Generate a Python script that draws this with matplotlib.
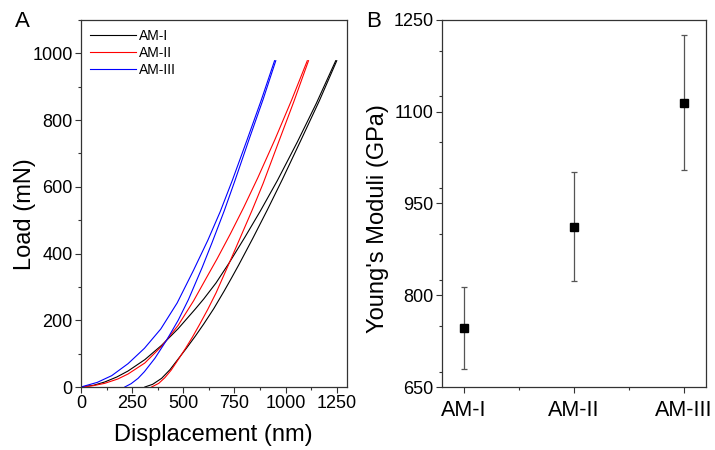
import matplotlib
matplotlib.use("Agg")
import matplotlib.pyplot as plt
from matplotlib.ticker import MultipleLocator

plt.rcParams['font.family'] = ['Liberation Sans', 'DejaVu Sans']

# ---- Panel A data: load-displacement curves (nm, mN) ----
am1_load_d = [0, 60, 116, 175, 230, 312, 394, 475, 559, 600, 660, 722, 800, 877, 959, 1057, 1150, 1245]
am1_load_L = [0, 5, 15, 30, 48, 82, 125, 175, 234, 264, 312, 370, 448, 528, 618, 734, 850, 978]
am1_unload_d = [312, 350, 394, 435, 475, 515, 557, 600, 649, 700, 735, 771, 840, 910, 984, 1075, 1165, 1250]
am1_unload_L = [0, 8, 26, 52, 84, 116, 151, 189, 235, 288, 326, 366, 446, 530, 622, 740, 858, 978]

am2_load_d = [0, 60, 116, 180, 230, 312, 394, 475, 550, 620, 665, 730, 795, 864, 948, 1030, 1106]
am2_load_L = [0, 4, 11, 24, 39, 72, 122, 185, 258, 335, 384, 459, 538, 627, 742, 861, 978]
am2_unload_d = [345, 380, 410, 440, 475, 510, 545, 580, 619, 660, 722, 780, 835, 890, 962, 1040, 1112]
am2_unload_L = [0, 11, 28, 50, 82, 115, 150, 188, 232, 282, 368, 450, 528, 610, 728, 855, 978]

am3_load_d = [0, 80, 150, 230, 310, 390, 470, 550, 620, 680, 740, 810, 880, 946]
am3_load_L = [0, 14, 34, 70, 116, 174, 252, 350, 440, 525, 620, 738, 858, 978]
am3_unload_d = [214, 245, 279, 310, 361, 418, 475, 525, 592, 640, 700, 752, 823, 890, 952]
am3_unload_L = [0, 10, 26, 46, 86, 140, 200, 262, 358, 432, 528, 618, 745, 862, 978]

series_names = ["AM-I", "AM-II", "AM-III"]
series_colors = ["#000000", "#ff0000", "#0000ff"]

# ---- Panel B data: Young's moduli (GPa) ----
modulus_mean = [746, 912, 1115]
modulus_err = [67, 89, 110]
modulus_ticks = [650, 800, 950, 1100, 1250]

fig = plt.figure(figsize=(7.15, 4.5), dpi=100)
axA = fig.add_axes([0.1133, 0.14, 0.372, 0.8156])
axB = fig.add_axes([0.6182, 0.14, 0.3692, 0.8156])

curves = [
    (am1_load_d, am1_load_L, am1_unload_d, am1_unload_L),
    (am2_load_d, am2_load_L, am2_unload_d, am2_unload_L),
    (am3_load_d, am3_load_L, am3_unload_d, am3_unload_L),
]
for (ld, lL, ud, uL), name, c in zip(curves, series_names, series_colors):
    axA.plot(ld, lL, color=c, lw=0.8, label=name)
    axA.plot(ud, uL, color=c, lw=0.8)

axA.set_xlim(0, 1300)
axA.set_ylim(0, 1100)
axA.xaxis.set_major_locator(MultipleLocator(250))
axA.xaxis.set_minor_locator(MultipleLocator(125))
axA.yaxis.set_major_locator(MultipleLocator(200))
axA.yaxis.set_minor_locator(MultipleLocator(100))
axA.set_xlabel("Displacement (nm)", fontsize=17)
axA.set_ylabel("Load (mN)", fontsize=17)
axA.xaxis.label.set_verticalalignment("center")
axA.yaxis.label.set_verticalalignment("center")
axA.xaxis.set_label_coords(0.498, -0.131)
axA.yaxis.set_label_coords(-0.21, 0.47)
leg = axA.legend(loc="upper left", frameon=False, fontsize=10,
                 handlelength=3.3, handletextpad=0.2, labelspacing=0.22,
                 borderaxespad=0.25, bbox_to_anchor=(0.0, 1.0))

xpos = [1, 2, 3]
axB.errorbar(xpos, modulus_mean, yerr=modulus_err, fmt="s", color="black",
             ms=6, ecolor="#555555", elinewidth=0.9, capsize=2.5, capthick=0.9)
axB.set_xlim(0.8, 3.2)
axB.set_ylim(650, 1250)
axB.set_xticks(xpos)
axB.set_xticklabels(series_names, fontsize=15.5)
axB.xaxis.set_minor_locator(MultipleLocator(0.5))
axB.set_yticks(modulus_ticks)
axB.yaxis.set_minor_locator(MultipleLocator(75))
axB.set_ylabel("Young's Moduli (GPa)", fontsize=17)
axB.yaxis.label.set_verticalalignment("center")
axB.yaxis.set_label_coords(-0.242, 0.46)

for ax in (axA, axB):
    for s in ax.spines.values():
        s.set_color("#333333")
        s.set_linewidth(0.9)
    ax.tick_params(which="both", direction="out", top=False, right=False,
                   color="#333333", width=0.8)
    ax.tick_params(which="major", length=4)
    ax.tick_params(which="minor", length=2.5)
    ax.tick_params(axis="y", labelsize=13, pad=2)
axA.tick_params(axis="x", labelsize=13, pad=2)
axB.tick_params(axis="x", which="major", pad=5)

fig.text(0.031, 0.975, "A", fontsize=16, va="top", ha="center")
fig.text(0.523, 0.975, "B", fontsize=16, va="top", ha="center")

fig.savefig("out.png", dpi=100)
